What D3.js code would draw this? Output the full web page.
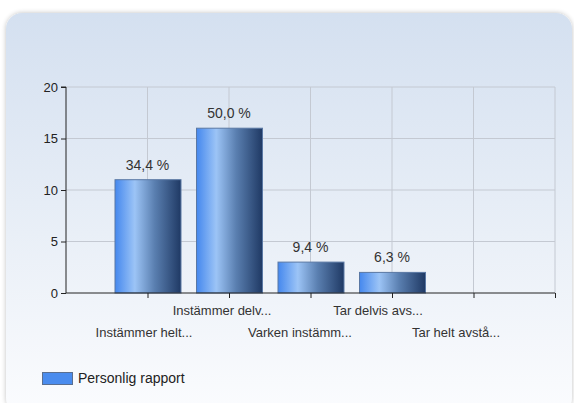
<!doctype html>
<html>
<head>
<meta charset="utf-8"/>
<title>Personlig rapport</title>
<script src="https://d3js.org/d3.v7.min.js"></script>
<style>
body{margin:0;background:#fff;}
text{font-family:"Liberation Sans",Arial,sans-serif;}
</style>
</head>
<body>
<script type="text/javascript">
// data
var kategorier = ["Instämmer helt...", "Instämmer delv...", "Varken instämm...", "Tar delvis avs...", "Tar helt avstå..."];
var antal = [11, 16, 3, 2, 0];
var etiketter = ["34,4 %", "50,0 %", "9,4 %", "6,3 %", ""];
var yTicks = [0, 5, 10, 15, 20];
var serie = "Personlig rapport";

var W = 574, H = 403;
var svg = d3.select("body").append("svg")
    .attr("width", W)
    .attr("height", H);

var defs = svg.append("defs");
var bg = defs.append("linearGradient").attr("id", "bg")
    .attr("x1", 0).attr("y1", 0).attr("x2", 0).attr("y2", 1);
bg.append("stop").attr("offset", "0%").attr("stop-color", "#d4e0f0");
bg.append("stop").attr("offset", "55%").attr("stop-color", "#e9eff7");
bg.append("stop").attr("offset", "100%").attr("stop-color", "#fbfcfe");

var bar = defs.append("linearGradient").attr("id", "bar")
    .attr("x1", 0).attr("y1", 0).attr("x2", 1).attr("y2", 0);
bar.append("stop").attr("offset", "0%").attr("stop-color", "#4588ee");
bar.append("stop").attr("offset", "30%").attr("stop-color", "#9cc4f6");
bar.append("stop").attr("offset", "60%").attr("stop-color", "#5a7fb0");
bar.append("stop").attr("offset", "100%").attr("stop-color", "#1f3964");

var sh = defs.append("filter").attr("id", "sh")
    .attr("x", "-5%").attr("y", "-5%").attr("width", "110%").attr("height", "110%");
sh.append("feGaussianBlur").attr("in", "SourceAlpha").attr("stdDeviation", 2.5);
sh.append("feOffset").attr("dx", 0).attr("dy", 0).attr("result", "b");
sh.append("feComponentTransfer").append("feFuncA").attr("type", "linear").attr("slope", 0.25);
var m = sh.append("feMerge");
m.append("feMergeNode");
m.append("feMergeNode").attr("in", "SourceGraphic");

// panel
svg.append("rect")
    .attr("x", 6).attr("y", 13)
    .attr("width", 566).attr("height", 400)
    .attr("rx", 16).attr("ry", 16)
    .attr("fill", "url(#bg)")
    .attr("filter", "url(#sh)");

// scales
var x = d3.scaleLinear().domain([0, kategorier.length + 1]).range([66, 555]);
var xLab = d3.scaleLinear().domain([0, kategorier.length + 1]).range([66, 534]);
var y = d3.scaleLinear().domain([0, 20]).range([293, 87]);
var bw = 66;

var g = svg.append("g");

// grid
g.selectAll(".hg").data(yTicks.slice(1)).enter().append("line")
    .attr("x1", x(0)).attr("x2", x(6))
    .attr("y1", function(d){return y(d)}).attr("y2", function(d){return y(d)})
    .attr("stroke", "#c4c9d2").attr("stroke-width", 1);
g.selectAll(".vg").data(d3.range(1, 7)).enter().append("line")
    .attr("x1", function(d){return x(d)}).attr("x2", function(d){return x(d)})
    .attr("y1", y(20)).attr("y2", y(0))
    .attr("stroke", "#c4c9d2").attr("stroke-width", 1);

// bars
g.selectAll(".bar").data(antal).enter().append("rect")
    .attr("x", function(d, i){return x(i + 1) - bw / 2 + 0.5})
    .attr("y", function(d){return y(d)})
    .attr("width", bw)
    .attr("height", function(d){return y(0) - y(d)})
    .attr("fill", "url(#bar)")
    .attr("stroke", function(d){return d > 0 ? "#5a78a4" : "none"})
    .attr("stroke-width", 1);

g.selectAll(".val").data(antal).enter().append("text")
    .attr("x", function(d, i){return x(i + 1)})
    .attr("y", function(d){return y(d) - 10})
    .attr("text-anchor", "middle")
    .attr("font-size", 14)
    .attr("fill", "#333")
    .text(function(d, i){return etiketter[i]});

// axes
var yAxis = d3.axisLeft(y).tickValues(yTicks).tickSize(5).tickPadding(3);
var ya = svg.append("g").attr("transform", "translate(" + x(0) + ",0)").call(yAxis);
ya.select(".domain").attr("stroke", "#222").attr("d", "M-5," + y(20) + "H0V" + y(0));
ya.selectAll("line").attr("stroke", "#222");
ya.selectAll("text").attr("font-size", 13).attr("fill", "#222")
    .attr("font-family", "Liberation Sans, Arial, sans-serif");

var xAxis = d3.axisBottom(x).tickValues(d3.range(1, 7)).tickSize(5).tickFormat("");
var xa = svg.append("g").attr("transform", "translate(0," + y(0) + ")").call(xAxis);
xa.select(".domain").attr("stroke", "#222").attr("d", "M" + x(0) + ",0H" + x(6));
xa.selectAll("line").attr("stroke", "#222");

svg.selectAll(".xl").data(kategorier).enter().append("text")
    .attr("x", function(d, i){return xLab(i + 1)})
    .attr("y", function(d, i){return i % 2 == 0 ? 337 : 315})
    .attr("text-anchor", "middle")
    .attr("font-size", 13)
    .attr("fill", "#333")
    .text(function(d){return d});

// legend
svg.append("rect")
    .attr("x", 42.5).attr("y", 372.5).attr("width", 30).attr("height", 12)
    .attr("fill", "#4a8cee").attr("stroke", "#5a6f90");
svg.append("text")
    .attr("x", 78).attr("y", 383)
    .attr("font-size", 14).attr("fill", "#222")
    .text(serie);
</script>
</body>
</html>
